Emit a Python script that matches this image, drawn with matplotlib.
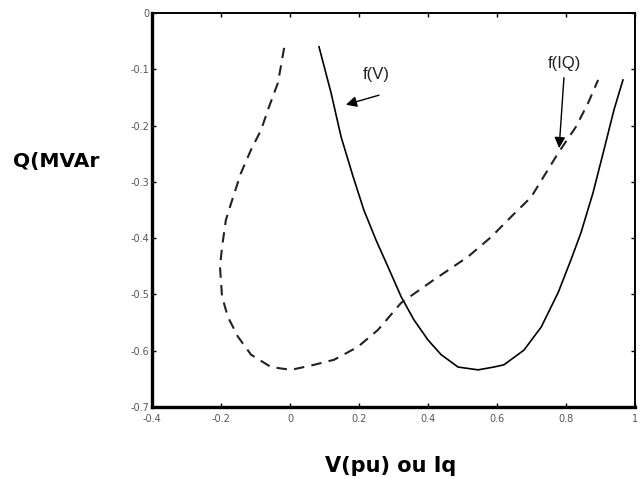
import matplotlib
matplotlib.use("Agg")
import matplotlib.pyplot as plt
from matplotlib.ticker import FormatStrFormatter

plt.rcParams["axes.unicode_minus"] = False

# f(V): solid curve
fv_x = [0.084, 0.119, 0.148, 0.183, 0.214, 0.249, 0.284, 0.322, 0.359, 0.400,
        0.438, 0.487, 0.545, 0.591, 0.620, 0.678, 0.728, 0.777, 0.814, 0.843,
        0.878, 0.910, 0.939, 0.965]
fv_y = [-0.060, -0.142, -0.220, -0.291, -0.350, -0.403, -0.451, -0.504, -0.545,
        -0.581, -0.607, -0.629, -0.634, -0.629, -0.625, -0.599, -0.558, -0.497,
        -0.439, -0.391, -0.320, -0.243, -0.172, -0.119]

# f(IQ): dashed curve (x is not monotonic, so keep the points in path order)
fiq_x = [-0.017, -0.035, -0.061, -0.084, -0.113, -0.142, -0.165, -0.186, -0.197,
         -0.203, -0.197, -0.180, -0.151, -0.113, -0.055, 0.003, 0.070, 0.128,
         0.197, 0.255, 0.322, 0.417, 0.516, 0.583, 0.641, 0.699, 0.742, 0.777,
         0.829, 0.864, 0.893]
fiq_y = [-0.062, -0.124, -0.167, -0.208, -0.243, -0.284, -0.327, -0.368, -0.416,
         -0.451, -0.504, -0.540, -0.575, -0.607, -0.629, -0.634, -0.625, -0.616,
         -0.593, -0.563, -0.515, -0.474, -0.433, -0.398, -0.362, -0.327, -0.284,
         -0.249, -0.202, -0.160, -0.119]

x_ticks = [-0.4, -0.2, 0, 0.2, 0.4, 0.6, 0.8, 1]
y_ticks = [0, -0.1, -0.2, -0.3, -0.4, -0.5, -0.6, -0.7]

fig = plt.figure(figsize=(6.43, 4.79), dpi=100)
ax = fig.add_axes([0.2364, 0.1503, 0.7512, 0.8226])

ax.plot(fv_x, fv_y, color="black", linewidth=1.2)
ax.plot(fiq_x, fiq_y, color="#222222", linewidth=1.5, dashes=(5, 3.5))

# curve labels, arrows drawn separately so the tail sits where the picture has it
arrow = dict(arrowstyle="-|>", color="black", lw=1.0, mutation_scale=16,
             shrinkA=0, shrinkB=0)
ax.text(0.249, -0.110, "f(V)", ha="center", va="center", fontsize=12,
        color="#222222", family="Liberation Sans")
ax.annotate("", xy=(0.162, -0.163), xytext=(0.258, -0.146), arrowprops=arrow)
ax.text(0.794, -0.089, "f(IQ)", ha="center", va="center", fontsize=12,
        color="#222222", family="Liberation Sans")
ax.annotate("", xy=(0.780, -0.240), xytext=(0.794, -0.115), arrowprops=arrow)

ax.set_xlim(-0.4, 1)
ax.set_ylim(-0.7, 0)
ax.set_xticks(x_ticks)
ax.set_yticks(y_ticks)
ax.xaxis.set_major_formatter(FormatStrFormatter("%g"))
ax.yaxis.set_major_formatter(FormatStrFormatter("%g"))
ax.tick_params(direction="in", length=3, width=1, top=True, right=True,
               labelsize=7, labelcolor="#555555")
ax.tick_params(axis="x", pad=5)
ax.tick_params(axis="y", pad=2)

for side in ("left", "bottom"):
    ax.spines[side].set_linewidth(2.4)
for side in ("top", "right"):
    ax.spines[side].set_linewidth(1.4)

fig.text(0.088, 1 - 162 / 479, "Q(MVAr", ha="center", va="center",
         fontsize=14.5, fontweight="bold")
fig.text(0.607, 1 - 466 / 479, "V(pu) ou Iq", ha="center", va="center",
         fontsize=15, fontweight="bold")

fig.savefig("out.png", dpi=100)
